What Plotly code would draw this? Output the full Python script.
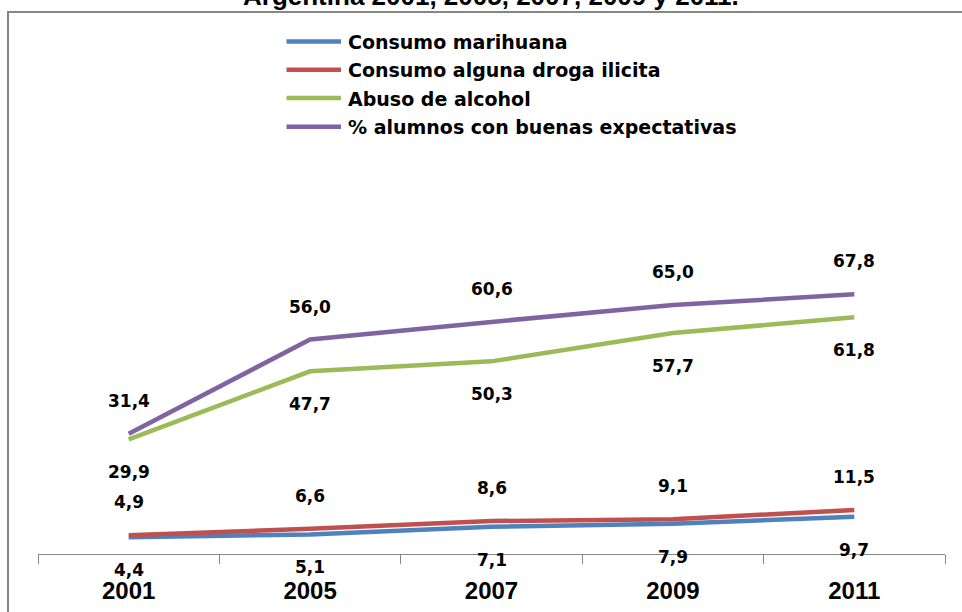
import plotly.graph_objects as go

years = ["2001", "2005", "2007", "2009", "2011"]
marihuana = [4.4, 5.1, 7.1, 7.9, 9.7]
droga = [4.9, 6.6, 8.6, 9.1, 11.5]
alcohol = [29.9, 47.7, 50.3, 57.7, 61.8]
expectativas = [31.4, 56.0, 60.6, 65.0, 67.8]

series_names = ["Consumo marihuana", "Consumo alguna droga ilicita",
                "Abuso de alcohol", "% alumnos con buenas expectativas"]
series_values = [marihuana, droga, alcohol, expectativas]
series_colors = ["#4F81BD", "#C0504D", "#9BBB59", "#8064A2"]
label_shift = [-33, 33, -33, 33]

title_text = "Argentina 2001, 2005, 2007, 2009 y 2011."

W, H = 962, 612
ML, MR, MT, MB = 38, 17, 40, 58
PW = W - ML - MR
PH = H - MT - MB


def px(x):
    return (x - ML) / PW


def py(y):
    return (H - MB - y) / PH


fig = go.Figure()
for name, vals, col in zip(series_names, series_values, series_colors):
    fig.add_trace(go.Scatter(x=years, y=vals, mode="lines", name=name,
                             line=dict(color=col, width=4.5),
                             showlegend=False, hoverinfo="skip"))

annotations = []
for vals, shift in zip(series_values, label_shift):
    for i, v in enumerate(vals):
        annotations.append(dict(
            x=i, y=v, xref="x", yref="y", yshift=shift,
            text=f"{v:.1f}".replace(".", ","), showarrow=False,
            font=dict(family="DejaVu Sans", size=17, color="#000000",
                      weight="bold"),
            xanchor="center", yanchor="middle"))

# legend (manual, Excel-like)
legend_rows = [41.6, 69.7, 98.0, 126.8]
shapes = []
for name, col, ry in zip(series_names, series_colors, legend_rows):
    shapes.append(dict(type="line", xref="paper", yref="paper",
                       x0=px(286.5), x1=px(341), y0=py(ry), y1=py(ry),
                       line=dict(color=col, width=4.5)))
    annotations.append(dict(x=px(346), y=py(ry + 0.5), xref="paper", yref="paper",
                            text=name, showarrow=False, xanchor="left",
                            yanchor="middle",
                            font=dict(family="DejaVu Sans", size=19,
                                      color="#000000", weight="bold")))

# outer chart border
shapes.append(dict(type="rect", xref="paper", yref="paper",
                   x0=px(8), x1=px(1000), y0=py(12), y1=py(650),
                   line=dict(color="#868686", width=2), layer="below"))

annotations.append(dict(x=px(491), y=py(13), xref="paper", yref="paper",
                        text=f"<b>{title_text}</b>", showarrow=False,
                        xanchor="center", yanchor="bottom",
                        font=dict(family="Liberation Sans", size=26,
                                  color="#000000")))

fig.update_layout(
    width=W, height=H,
    margin=dict(l=ML, r=MR, t=MT, b=MB, pad=0, autoexpand=False),
    paper_bgcolor="white", plot_bgcolor="white",
    showlegend=False,
    annotations=annotations, shapes=shapes,
    xaxis=dict(type="category", range=[-0.5, 4.5], showgrid=False,
               zeroline=False, showline=True, linecolor="#868686",
               linewidth=1, ticks="outside", tickson="boundaries",
               ticklen=9, tickcolor="#868686", tickwidth=1,
               ticklabelstandoff=15, automargin=False,
               tickfont=dict(family="Liberation Sans", size=24,
                             color="#000000", weight="bold")),
    yaxis=dict(range=[0, PH / 3.83], showgrid=False, showline=False,
               showticklabels=False, ticks="", zeroline=False,
               fixedrange=True, automargin=False),
)

fig.write_html("out.html",
               config={"displayModeBar": False},
               post_script="document.body.style.margin='0';"
                           "document.body.style.padding='0';")
